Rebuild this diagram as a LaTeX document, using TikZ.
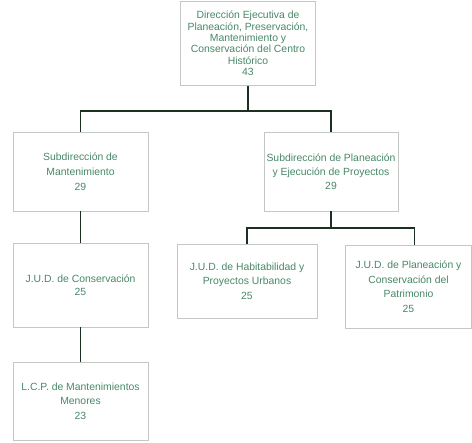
\documentclass[tikz,border=0pt]{standalone}
\usepackage{fontspec}
\setmainfont{Liberation Sans}
\usetikzlibrary{positioning}
\definecolor{boxtext}{RGB}{72,136,104}
\definecolor{boxline}{RGB}{195,200,196}
\definecolor{connline}{RGB}{28,48,34}
\begin{document}
\begin{tikzpicture}[x=1pt,y=-1pt,
  unit/.style={draw=boxline,line width=0.6pt,fill=white,text=boxtext,
    align=center,inner sep=0pt,font=\fontsize{10.4}{14.5}\selectfont},
  conn/.style={draw=connline,line width=1.6pt}]
\useasboundingbox (0,0) rectangle (472,443);
% head office
\node[unit,minimum width=135,minimum height=84,font=\fontsize{10.4}{11.4}\selectfont]
  (dir) at (248,43.5) {Dirección Ejecutiva de\\Planeación, Preservación,\\Mantenimiento y\\Conservación del Centro\\Histórico\\43};
% second level
\node[unit,minimum width=135,minimum height=79,font=\fontsize{10.4}{15}\selectfont] (sman) at (80.5,171.5)
  {Subdirección de\\Mantenimiento\\29};
\node[unit,minimum width=134,minimum height=79,font=\fontsize{10.4}{14}\selectfont] (spla) at (331,171.5)
  {Subdirección de Planeación\\y Ejecución de Proyectos\\29};
% third level
\node[unit,minimum width=135,minimum height=84,font=\fontsize{10.4}{12.5}\selectfont] (jcon) at (80.5,285)
  {J.U.D. de Conservación\\25};
\node[unit,minimum width=140,minimum height=74] (jhab) at (247,281)
  {J.U.D. de Habitabilidad y\\Proyectos Urbanos\\25};
\node[unit,minimum width=126,minimum height=83] (jpat) at (408.5,286.5)
  {J.U.D. de Planeación y\\Conservación del\\Patrimonio\\25};
% fourth level
\node[unit,minimum width=135,minimum height=78] (lcp) at (80.5,401)
  {L.C.P. de Mantenimientos\\Menores\\23};
% connectors
\coordinate (b1) at ([yshift=-25pt]dir.south);
\draw[conn] (dir.south) -- (b1);
\draw[conn] (sman.north) |- (b1) -| (spla.north);
\draw[conn] (sman.south) -- (jcon.north);
\draw[conn] (jcon.south) -- (lcp.north);
\coordinate (b2) at ([yshift=-17pt]spla.south);
\draw[conn] (spla.south) -- (b2);
\draw[conn] (jhab.north) |- (b2) -| ([xshift=6pt]jpat.north);
\end{tikzpicture}
\end{document}
